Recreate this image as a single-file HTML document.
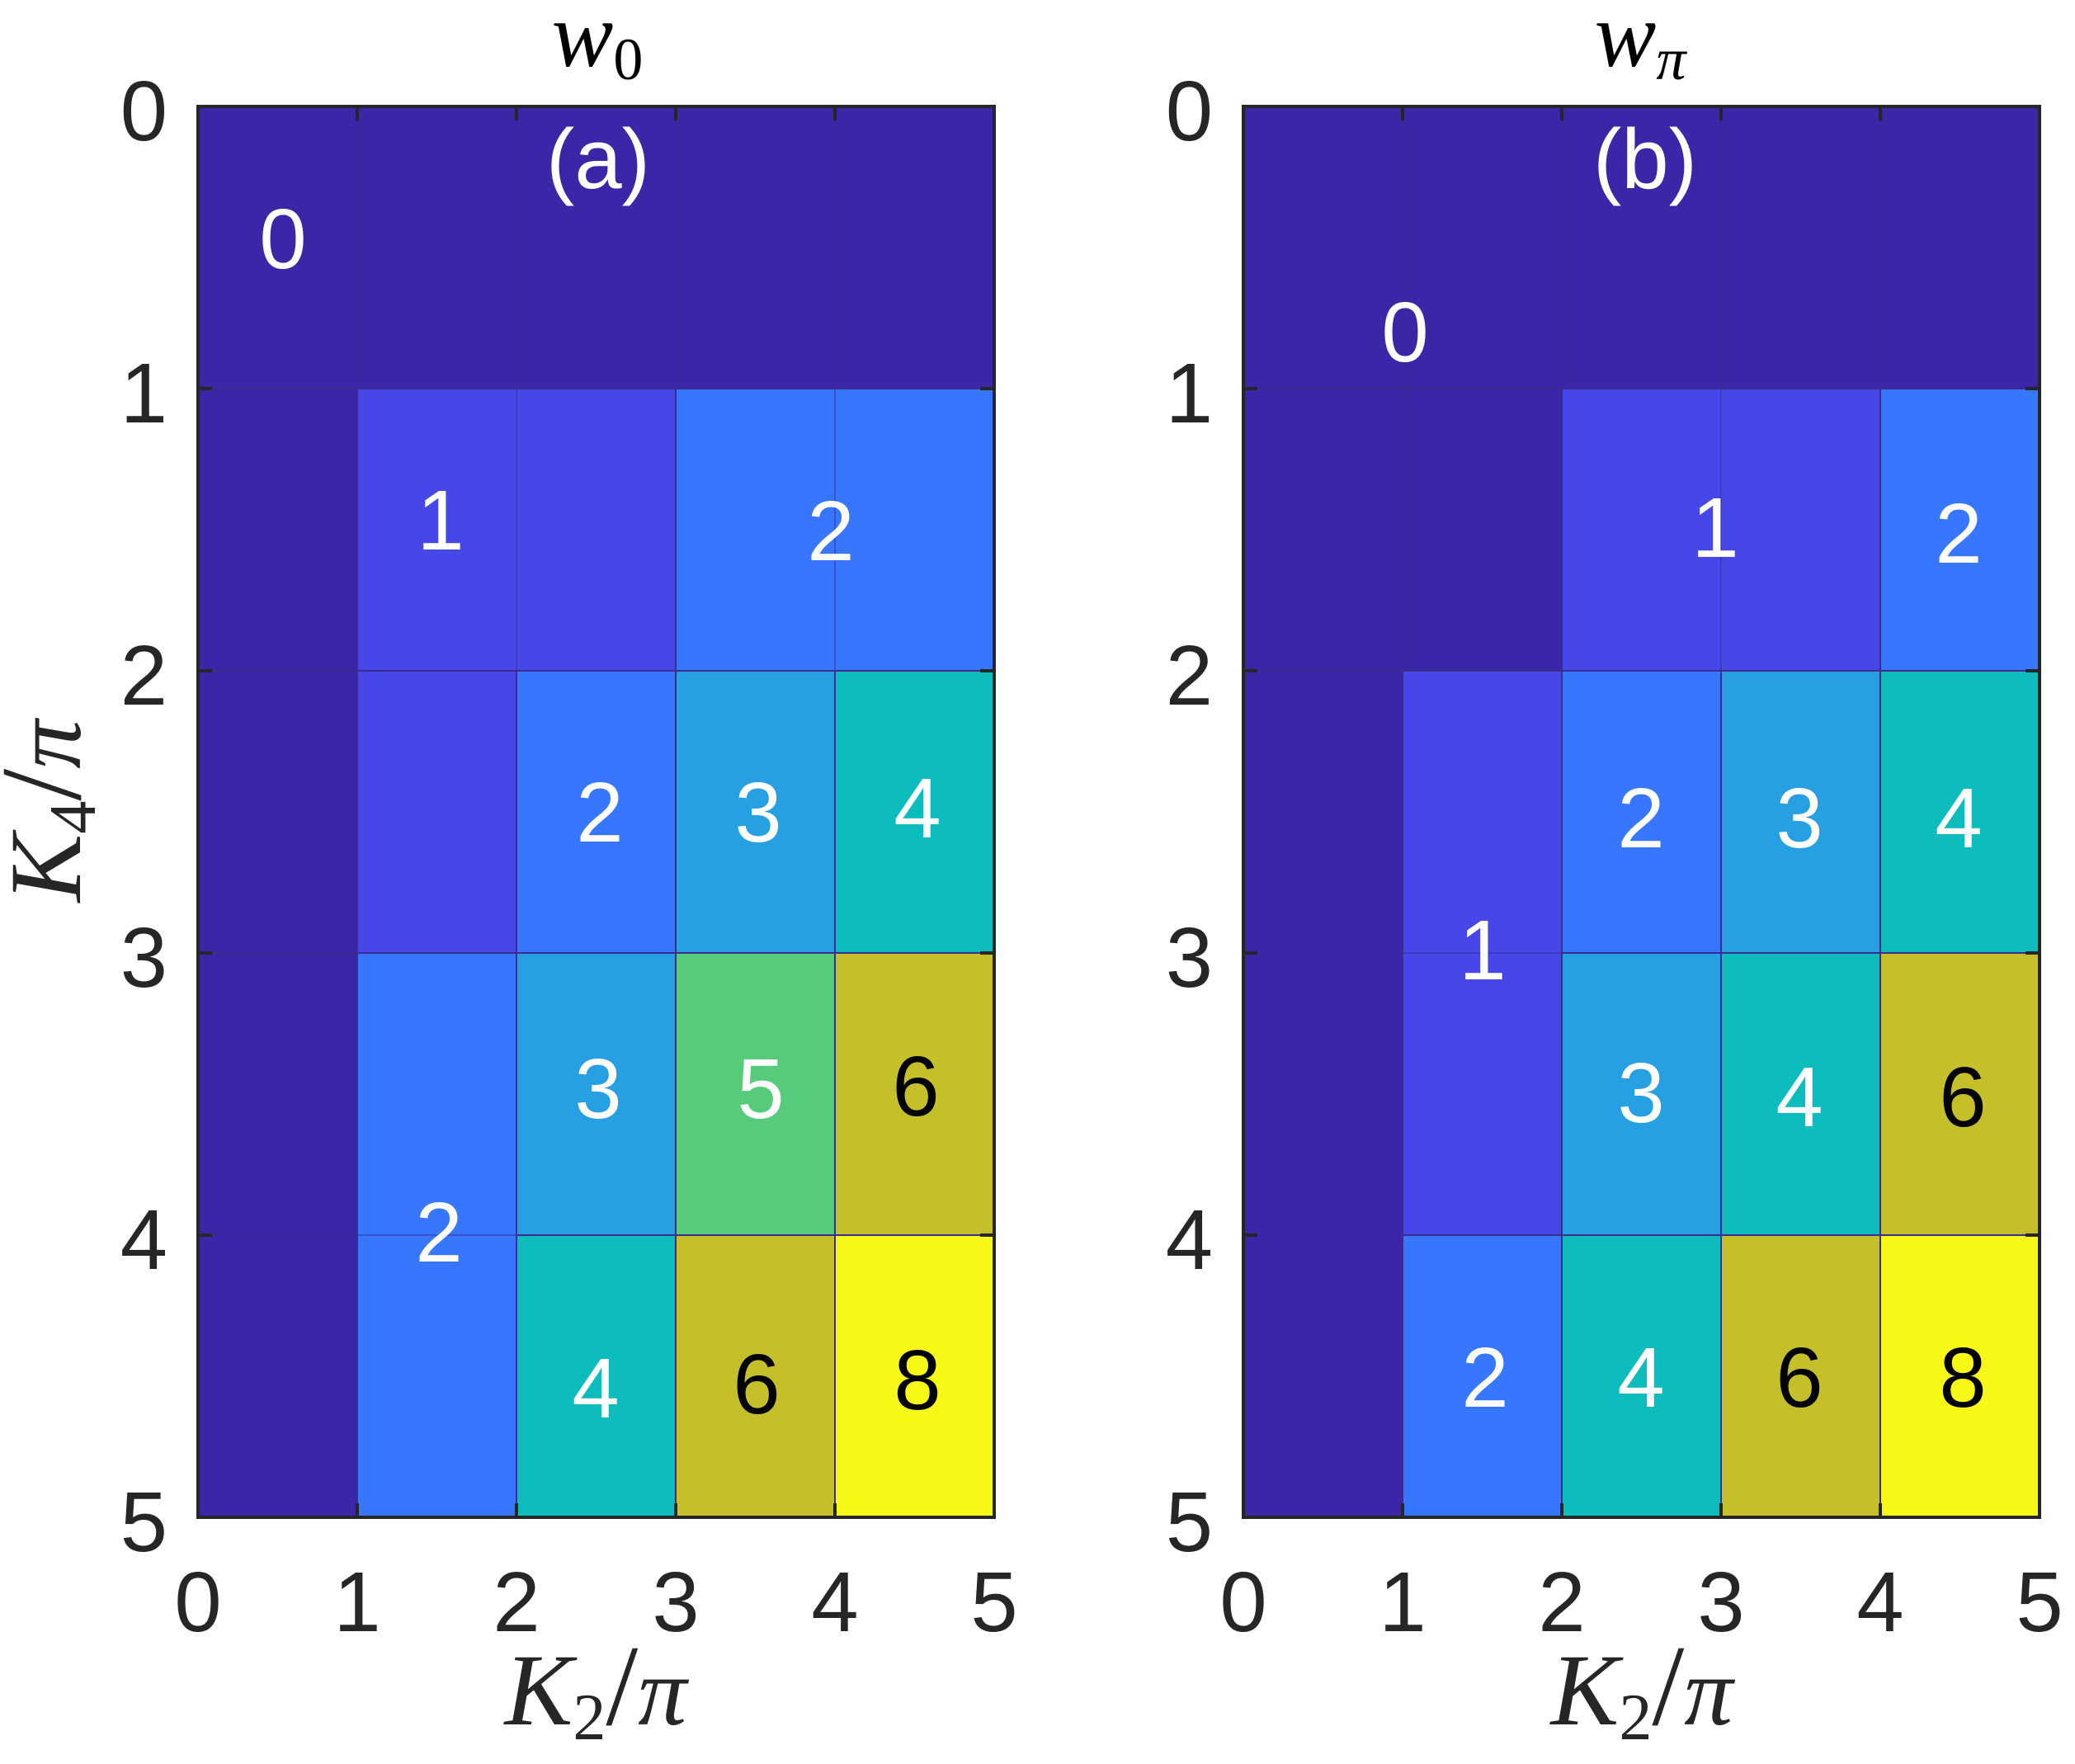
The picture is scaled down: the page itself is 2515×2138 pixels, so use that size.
<!DOCTYPE html>
<html><head><meta charset="utf-8"><style>html,body{margin:0;padding:0;background:#fff}svg{display:block}</style></head>
<body>
<svg width="2515" height="2138" viewBox="0 0 2515 2138" xmlns="http://www.w3.org/2000/svg">
<!-- LEFT PANEL cells -->
<g stroke="#3b2d8f" stroke-width="2">
<rect x="240" y="129" width="965" height="342" fill="#3c26a8" stroke="none"/>
<rect x="240" y="471" width="193" height="342" fill="#3c26a8"/>
<rect x="433" y="471" width="386" height="342" fill="#4747e8"/>
<rect x="819" y="471" width="386" height="342" fill="#3777ff"/>
<rect x="240" y="813" width="193" height="342" fill="#3c26a8"/>
<rect x="433" y="813" width="193" height="342" fill="#4747e8"/>
<rect x="626" y="813" width="193" height="342" fill="#3777ff"/>
<rect x="819" y="813" width="193" height="342" fill="#26a0e3"/>
<rect x="1012" y="813" width="193" height="342" fill="#0dbcbc"/>
<rect x="240" y="1155" width="193" height="684" fill="#3c26a8"/>
<rect x="433" y="1155" width="193" height="684" fill="#3777ff"/>
<rect x="626" y="1155" width="193" height="342" fill="#26a0e3"/>
<rect x="819" y="1155" width="193" height="342" fill="#56cc7a"/>
<rect x="1012" y="1155" width="193" height="342" fill="#c5c02a"/>
<rect x="626" y="1497" width="193" height="342" fill="#0dbcbc"/>
<rect x="819" y="1497" width="193" height="342" fill="#c5c02a"/>
<rect x="1012" y="1497" width="193" height="342" fill="#f8f818"/>
</g>
<g stroke="#352c8a" stroke-width="1.5" opacity="0.6">
<line x1="433" y1="129" x2="433" y2="471"/><line x1="626" y1="129" x2="626" y2="813"/>
<line x1="819" y1="129" x2="819" y2="471"/><line x1="1012" y1="129" x2="1012" y2="813"/>
<line x1="240" y1="1497" x2="626" y2="1497"/>
</g>
<!-- RIGHT PANEL cells -->
<g stroke="#3b2d8f" stroke-width="2">
<rect x="1507" y="129" width="965" height="342" fill="#3c26a8" stroke="none"/>
<rect x="1507" y="471" width="386" height="342" fill="#3c26a8"/>
<rect x="1893" y="471" width="386" height="342" fill="#4747e8"/>
<rect x="2279" y="471" width="193" height="342" fill="#3777ff"/>
<rect x="1507" y="813" width="193" height="1026" fill="#3c26a8"/>
<rect x="1700" y="813" width="193" height="684" fill="#4747e8"/>
<rect x="1893" y="813" width="193" height="342" fill="#3777ff"/>
<rect x="2086" y="813" width="193" height="342" fill="#26a0e3"/>
<rect x="2279" y="813" width="193" height="342" fill="#0dbcbc"/>
<rect x="1893" y="1155" width="193" height="342" fill="#26a0e3"/>
<rect x="2086" y="1155" width="193" height="342" fill="#0dbcbc"/>
<rect x="2279" y="1155" width="193" height="342" fill="#c5c02a"/>
<rect x="1700" y="1497" width="193" height="342" fill="#3777ff"/>
<rect x="1893" y="1497" width="193" height="342" fill="#0dbcbc"/>
<rect x="2086" y="1497" width="193" height="342" fill="#c5c02a"/>
<rect x="2279" y="1497" width="193" height="342" fill="#f8f818"/>
</g>
<g stroke="#352c8a" stroke-width="1.5" opacity="0.6">
<line x1="1700" y1="129" x2="1700" y2="813"/><line x1="1893" y1="129" x2="1893" y2="471"/>
<line x1="2086" y1="129" x2="2086" y2="813"/><line x1="2279" y1="129" x2="2279" y2="471"/>
<line x1="1507" y1="471" x2="1893" y2="471"/><line x1="1700" y1="1155" x2="1893" y2="1155"/>
</g>
<!-- axes frames and ticks -->
<g fill="none" stroke="#262626" stroke-width="4">
<rect x="240" y="129" width="965" height="1710"/>
<rect x="1507" y="129" width="965" height="1710"/>
<path d="M433 129v17M626 129v17M819 129v17M1012 129v17M433 1839v-17M626 1839v-17M819 1839v-17M1012 1839v-17
M240 471h17M240 813h17M240 1155h17M240 1497h17M1205 471h-17M1205 813h-17M1205 1155h-17M1205 1497h-17
M1700 129v17M1893 129v17M2086 129v17M2279 129v17M1700 1839v-17M1893 1839v-17M2086 1839v-17M2279 1839v-17
M1507 471h17M1507 813h17M1507 1155h17M1507 1497h17M2472 471h-17M2472 813h-17M2472 1155h-17M2472 1497h-17"/>
</g>
<!-- tick labels -->
<g font-family="Liberation Sans, sans-serif" font-size="103" fill="#262626">
<g text-anchor="end">
<text x="203" y="170">0</text><text x="203" y="512">1</text><text x="203" y="854">2</text><text x="203" y="1196">3</text><text x="203" y="1538">4</text><text x="203" y="1880">5</text>
<text x="1470" y="170">0</text><text x="1470" y="512">1</text><text x="1470" y="854">2</text><text x="1470" y="1196">3</text><text x="1470" y="1538">4</text><text x="1470" y="1880">5</text>
</g>
<g text-anchor="middle">
<text x="240" y="1977">0</text><text x="433" y="1977">1</text><text x="626" y="1977">2</text><text x="819" y="1977">3</text><text x="1012" y="1977">4</text><text x="1205" y="1977">5</text>
<text x="1507" y="1977">0</text><text x="1700" y="1977">1</text><text x="1893" y="1977">2</text><text x="2086" y="1977">3</text><text x="2279" y="1977">4</text><text x="2472" y="1977">5</text>
</g>
</g>
<!-- cell labels -->
<g font-family="Liberation Sans, sans-serif" font-size="103" text-anchor="middle" fill="#fff">
<text x="725" y="228">(a)</text>
<text x="343" y="325">0</text>
<text x="534" y="666">1</text><text x="1007" y="679">2</text>
<text x="727" y="1020">2</text><text x="919" y="1020">3</text><text x="1112" y="1015">4</text>
<text x="725" y="1355">3</text><text x="922" y="1355">5</text><text x="1110" y="1352" fill="#000">6</text>
<text x="532" y="1529">2</text>
<text x="722" y="1718">4</text><text x="917" y="1713" fill="#000">6</text><text x="1112" y="1708" fill="#000">8</text>
<text x="1994" y="228">(b)</text>
<text x="1703" y="438">0</text>
<text x="2079" y="675">1</text><text x="2374" y="682">2</text>
<text x="1989" y="1027">2</text><text x="2181" y="1027">3</text><text x="2374" y="1027">4</text>
<text x="1797" y="1187">1</text>
<text x="1989" y="1360">3</text><text x="2181" y="1365">4</text><text x="2379" y="1365" fill="#000">6</text>
<text x="1800" y="1705">2</text><text x="1989" y="1705">4</text><text x="2181" y="1705" fill="#000">6</text><text x="2379" y="1705" fill="#000">8</text>
</g>
<!-- titles -->
<g font-family="Liberation Serif, serif" fill="#000">
<text x="724" y="80" text-anchor="middle"><tspan font-style="italic" font-size="112">w</tspan><tspan font-size="72" dy="16">0</tspan></text>
<text x="1988" y="80" text-anchor="middle"><tspan font-style="italic" font-size="112">w</tspan><tspan font-style="italic" font-size="72" dy="16">π</tspan></text>
</g>
<!-- axis labels -->
<g font-family="Liberation Serif, serif" fill="#262626">
<text x="722" y="2090" text-anchor="middle"><tspan font-style="italic" font-size="124">K</tspan><tspan font-size="80" dy="18">2</tspan><tspan font-size="140" dy="-18">/</tspan><tspan font-style="italic" font-size="118">π</tspan></text>
<text x="1990" y="2090" text-anchor="middle"><tspan font-style="italic" font-size="124">K</tspan><tspan font-size="80" dy="18">2</tspan><tspan font-size="140" dy="-18">/</tspan><tspan font-style="italic" font-size="118">π</tspan></text>
<text transform="translate(97,983) rotate(-90)" text-anchor="middle"><tspan font-style="italic" font-size="124">K</tspan><tspan font-size="80" dy="18">4</tspan><tspan font-size="140" dy="-18">/</tspan><tspan font-style="italic" font-size="118">π</tspan></text>
</g>
</svg>
</body></html>
